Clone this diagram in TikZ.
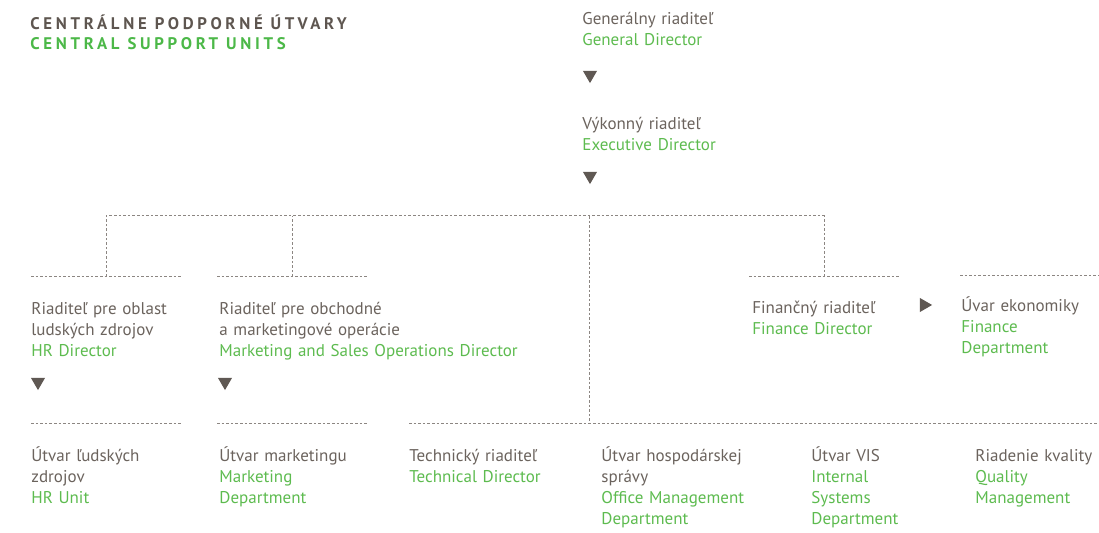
\documentclass[tikz,border=0pt]{standalone}
\usepackage{fontspec}
\setmainfont{PT Sans}
\newfontfamily\titlefont[LetterSpace=22]{PT Sans}
\usepackage{xcolor}
\usepackage{tikz}
\usetikzlibrary{shapes.geometric}
\definecolor{txtgray}{HTML}{6B635D}
\definecolor{engreen}{HTML}{5DBB4F}
\definecolor{titlegray}{HTML}{5E5650}
\definecolor{titlegreen}{HTML}{4CB848}
\definecolor{rulegray}{HTML}{8C8682}
\definecolor{markgray}{HTML}{5F5853}
\newcommand{\en}[1]{\textcolor{engreen}{#1}}
\tikzset{
    unit/.style={anchor=base west, inner sep=0pt, text width=175pt, align=left,
        text=txtgray, font=\fontsize{8.5}{10.5}\selectfont},
    heading/.style={anchor=base west, inner sep=0pt, font=\titlefont\bfseries\fontsize{8.4}{10}\selectfont},
    rule/.style={draw=rulegray, line width=0.5pt, dash pattern=on 1.3pt off 1pt},
    downmark/.style={regular polygon, regular polygon sides=3, shape border rotate=180,
        fill=markgray, inner sep=0pt, minimum size=8.1pt},
    rightmark/.style={downmark, shape border rotate=-90}
}

\begin{document}
\begin{tikzpicture}[x=0.5pt, y=-0.5pt]
    \useasboundingbox (0,0) rectangle (1099,533);

    \node[heading, text=titlegray] (titlesk) at (30,30) {CENTRÁLNE PODPORNÉ ÚTVARY};
    \node[heading, text=titlegreen] (titleen) at (30,50) {CENTRAL SUPPORT UNITS};

    \node[unit] (gen) at (582,25) {Generálny riaditeľ\\ \en{General Director}};
    \node[downmark] (gendown) at (590,75) {};
    \node[unit] (exe) at (582,130) {Výkonný riaditeľ\\ \en{Executive Director}};
    \node[downmark] (exedown) at (590,176) {};

    \node[unit] (hr) at (31,315) {Riaditeľ pre oblast\\ ludských zdrojov\\ \en{HR Director}};
    \node[downmark] (hrdown) at (38,382) {};
    \node[unit] (mkt) at (219,315) {Riaditeľ pre obchodné\\ a marketingové operácie\\ \en{Marketing and Sales Operations Director}};
    \node[downmark] (mktdown) at (225,382) {};
    \node[unit] (fin) at (752,314) {Finančný riaditeľ\\ \en{Finance Director}};
    \node[rightmark] (finright) at (924,305) {};
    \node[unit] (eco) at (961,312) {Úvar ekonomiky\\ \en{Finance}\\ \en{Department}};

    \node[unit] (hrunit) at (31,462) {Útvar ľudských\\ zdrojov\\ \en{HR Unit}};
    \node[unit] (mktdep) at (219,462) {Útvar marketingu\\ \en{Marketing}\\ \en{Department}};
    \node[unit] (tech) at (409,462) {Technický riaditeľ\\ \en{Technical Director}};
    \node[unit] (office) at (601,462) {Útvar hospodárskej\\ správy\\ \en{Office Management}\\ \en{Department}};
    \node[unit] (vis) at (811,462) {Útvar VIS\\ \en{Internal}\\ \en{Systems}\\ \en{Department}};
    \node[unit] (qual) at (975,462) {Riadenie kvality\\ \en{Quality}\\ \en{Management}};

    \draw[rule] (31,277) -- coordinate (hrtop) (181,277);
    \draw[rule] (217,277) -- coordinate (mkttop) (367,277);
    \draw[rule] (749,277) -- coordinate (fintop) (899,277);
    \draw[rule] (960,276) -- (1099,276);
    \draw[rule] (31,424) -- (181,424);
    \draw[rule] (217,424) -- (367,424);
    \draw[rule] (409,424) -- coordinate[pos=0.261] (hub) (1099,424);

    \coordinate (bus) at (589,216);
    \draw[rule] (hrtop) -- (hrtop |- bus) -- (fintop |- bus) -- (fintop);
    \draw[rule] (mkttop) -- (mkttop |- bus);
    \draw[rule] (bus) -- (bus |- hub);
\end{tikzpicture}
\end{document}
